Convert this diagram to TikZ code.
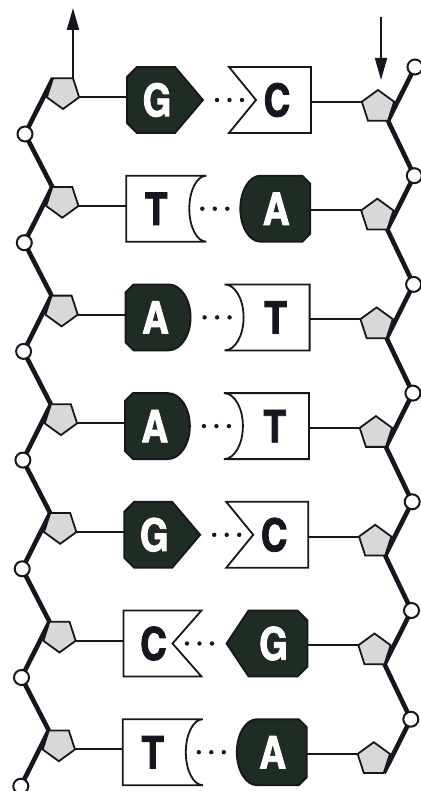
\documentclass[tikz,border=0pt]{standalone}
\usepackage{fontspec}
\usetikzlibrary{shapes.geometric,arrows.meta,backgrounds}
\newfontfamily\basefont[Extension=.otf, FakeBold=1.8]{texgyreheroscn-bold}
\definecolor{basedark}{RGB}{30,44,36}
\definecolor{sugar}{RGB}{216,216,216}
\definecolor{ink}{RGB}{22,22,30}
\tikzset{
  sugarL/.style={regular polygon, regular polygon sides=5, shape border rotate=180, minimum size=34pt, inner sep=0pt, outer sep=0pt, fill=sugar, draw=ink, line width=1.8pt},
  sugarR/.style={regular polygon, regular polygon sides=5, minimum size=34pt, inner sep=0pt, outer sep=0pt, fill=sugar, draw=ink, line width=1.8pt},
  phos/.style={circle, minimum size=15pt, inner sep=0pt, outer sep=0pt, fill=white, draw=ink, line width=2pt},
  backbone/.style={draw=ink, line width=4.6pt},
  link/.style={draw=ink, line width=2pt},
  darkbase/.style={fill=basedark, draw=ink, line width=1.8pt},
  lightbase/.style={fill=white, draw=ink, line width=1.8pt},
  letter/.style={font=\basefont\fontsize{45}{45}\selectfont, inner sep=0pt},
  txtG/.style={text=white}, txtA/.style={text=white}, txtC/.style={text=ink}, txtT/.style={text=ink},
  strandarrow/.style={draw=ink, line width=1.8pt, -{Triangle[length=22pt,width=12pt]}},
  hbond/.style={fill=ink},
}
\newcommand\shpGL{\path[darkbase] (127,-23) -- (137,-33) -- (175,-33) -- (203,0) -- (175,33) -- (137,33) -- (127,23) -- cycle;}
\newcommand\shpAL{\path[darkbase] (127,-25) -- (135,-33) -- (170,-33) .. controls (182.1,-33) and (192,-18.2) .. (192,0) .. controls (192,18.2) and (182.1,33) .. (170,33) -- (135,33) -- (127,25) -- cycle;}
\newcommand\shpTL{\path[lightbase] (127,-33) -- (207,-33) .. controls (197.6,-33) and (190,-18.2) .. (190,0) .. controls (190,18.2) and (197.6,33) .. (207,33) -- (127,33) -- cycle;}
\newcommand\shpCL{\path[lightbase] (127,-33) -- (205,-33) -- (176,0) -- (205,33) -- (127,33) -- cycle;}
\newcommand\shpCR{\path[lightbase] (229,-33) -- (311,-33) -- (311,33) -- (229,33) -- (256,0) -- cycle;}
\newcommand\shpAR{\path[darkbase] (311,-25) -- (303,-33) -- (261,-33) .. controls (250,-33) and (241,-18.2) .. (241,0) .. controls (241,18.2) and (250,33) .. (261,33) -- (303,33) -- (311,25) -- cycle;}
\newcommand\shpTR{\path[lightbase] (226,-33) -- (311,-33) -- (311,33) -- (226,33) .. controls (236.5,33) and (245,18.2) .. (245,0) .. controls (245,-18.2) and (236.5,-33) .. (226,-33) -- cycle;}
\newcommand\shpGR{\path[darkbase] (230,0) -- (252,-33) -- (301,-33) -- (311,-23) -- (311,23) -- (301,33) -- (252,33) -- cycle;}
\begin{document}
\begin{tikzpicture}[x=1pt,y=-1pt]
\useasboundingbox (0,0) rectangle (420,791);
\foreach \i/\lb/\rb/\gc in {0/G/C/229.5,1/T/A/215.5,2/A/T/218.5,3/A/T/218.5,4/G/C/229.5,5/C/G/203,6/T/A/215.5}{
  \pgfmathsetmacro\cy{100+108.7*\i}
  \pgfmathsetmacro\dx{-0.7*\i}
  \pgfmathsetmacro\xpl{63+\dx}
  \pgfmathsetmacro\ypl{\cy-8}
  \pgfmathsetmacro\xcl{25+\dx}
  \pgfmathsetmacro\ycl{\cy+34}
  \pgfmathsetmacro\xpr{378+\dx}
  \pgfmathsetmacro\ypr{\cy+7}
  \pgfmathsetmacro\xcr{415+\dx}
  \pgfmathsetmacro\ycr{\cy-33}
  \node[sugarL] (pl\i) at (\xpl,\ypl) {};
  \node[phos] (cl\i) at (\xcl,\ycl) {};
  \node[sugarR] (pr\i) at (\xpr,\ypr) {};
  \node[phos] (cr\i) at (\xcr,\ycr) {};
  \begin{scope}[shift={(\dx,\cy)}]
    \csname shp\lb L\endcsname
    \csname shp\rb R\endcsname
    \node[letter, txt\lb] (bl\i) at (157,0) {\lb};
    \node[letter, txt\rb] (br\i) at (277,0) {\rb};
    \coordinate (el\i) at (127,0);
    \coordinate (er\i) at (311,0);
    \foreach \k in {0,1,2} \fill[hbond] (\gc-12.5+12.5*\k,0) circle[radius=2.2pt];
  \end{scope}
}
\begin{scope}[on background layer]
  \foreach \i in {0,...,6}{
    \draw[backbone] (pl\i.corner 4) -- (cl\i.center);
    \draw[backbone] (pr\i.corner 4) -- (cr\i.center);
    \draw[link] (pl\i.corner 2) -- (pl\i.corner 2 -| el\i);
    \draw[link] (pr\i.corner 2) -- (pr\i.corner 2 -| er\i);
  }
  \foreach \i [evaluate=\i as \j using int(\i+1)] in {0,...,5}{
    \draw[backbone] (cl\i.center) -- (pl\j.corner 4);
    \draw[backbone] (pr\i.corner 4) -- (cr\j.center);
  }
\end{scope}
\coordinate (ltip) at (0,8);
\draw[strandarrow] (pl0.corner 3) -- (pl0.corner 3 |- ltip);
\coordinate (rtail) at (381,17);
\coordinate (rtip) at (381,80);
\draw[strandarrow] (rtail) -- (rtip);
\end{tikzpicture}
\end{document}
